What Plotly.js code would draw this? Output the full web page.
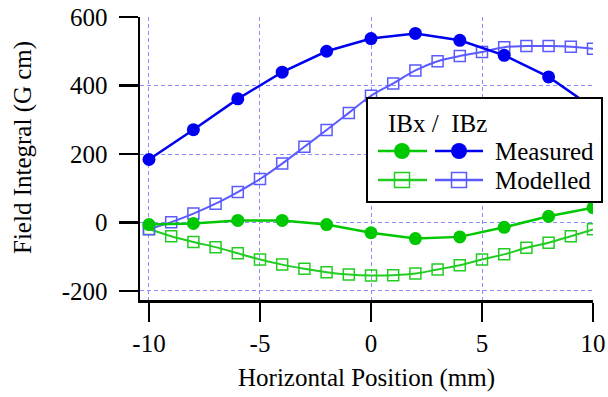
<!DOCTYPE html>
<html>
<head>
<meta charset="utf-8">
<script src="https://cdn.plot.ly/plotly-3.0.1.min.js"></script>
<style>html,body{margin:0;padding:0;background:#fff;}#chart{width:608px;height:397px;}</style>
</head>
<body>
<div id="chart"></div>
<script>
// ---- data ----
var xMeasured = [-10, -8, -6, -4, -2, 0, 2, 4, 6, 8, 10];
var ibxMeasured = [-6, -3, 6, 6, -6, -30, -47, -42, -14, 18, 43];
var ibzMeasured = [184, 271, 361, 439, 500, 537, 552, 532, 488, 425, 335];

var xModelled = [-10, -9, -8, -7, -6, -5, -4, -3, -2, -1, 0, 1, 2, 3, 4, 5, 6, 7, 8, 9, 10];
var ibxModelled = [-19, -40, -57, -72, -90, -108, -123, -135, -145, -152, -155, -154, -149, -137, -125, -108, -93, -74, -59, -40, -20];
var ibzModelled = [-20, 1, 26, 55, 89, 127, 172, 221, 270, 320, 370, 406, 444, 471, 486, 498, 512, 515, 515, 513, 507];

var xTicks = [-10, -5, 0, 5, 10];
var yTicks = [-200, 0, 200, 400, 600];
var legendHeader = 'IBx /\u00a0 IBz';
var legendLabels = ['Measured', 'Modelled'];
var xTitle = 'Horizontal Position (mm)';
var yTitle = 'Field Integral (G cm)';

// ---- styles ----
var FONT = 'Liberation Serif, Times New Roman, serif';
var GREEN = '#00c800';
var GREEN_M = '#22cc22';
var BLUE = '#0000f0';
var BLUE_M = '#5a5aff';
var GRID = '#8c8cff';

// plot area in pixels
var ML = 140, MR = 15, MT = 17, MB = 97;
var W = 608, H = 397;
var PW = W - ML - MR, PH = H - MT - MB;
function px(x) { return (x - ML) / PW; }
function py(y) { return (H - MB - y) / PH; }

var traces = [
  {x: xModelled, y: ibxModelled, mode: 'lines+markers', line: {color: GREEN_M, width: 2, shape: 'spline', smoothing: 1},
   marker: {symbol: 'square-open', size: 11, color: GREEN_M, line: {width: 1.5, color: GREEN_M}}},
  {x: xModelled, y: ibzModelled, mode: 'lines+markers', line: {color: BLUE_M, width: 2, shape: 'spline', smoothing: 1},
   marker: {symbol: 'square-open', size: 11, color: BLUE_M, line: {width: 1.5, color: BLUE_M}}},
  {x: xMeasured, y: ibxMeasured, mode: 'lines+markers', line: {color: GREEN, width: 2.5},
   marker: {symbol: 'circle', size: 13, color: GREEN}},
  {x: xMeasured, y: ibzMeasured, mode: 'lines+markers', line: {color: BLUE, width: 2.5},
   marker: {symbol: 'circle', size: 13, color: BLUE}}
];

// ---- legend built from shapes + annotations ----
var shapes = [
  {type: 'rect', xref: 'paper', yref: 'paper', x0: px(367), x1: px(602), y0: py(202), y1: py(98),
   fillcolor: '#ffffff', line: {color: '#000', width: 2}, layer: 'above'}
];
var annotations = [
  {xref: 'paper', yref: 'paper', x: px(386), y: py(123), xanchor: 'left', yanchor: 'middle', showarrow: false,
   text: legendHeader, font: {family: FONT, size: 25, color: '#000'}},
  {xref: 'paper', yref: 'paper', x: px(23), y: py(148), xanchor: 'center', yanchor: 'middle', showarrow: false,
   textangle: -90, text: yTitle, font: {family: FONT, size: 25, color: '#000'}}
];
var rows = [
  {y: 151, label: legendLabels[0], sym: 'circle', colors: [GREEN, BLUE]},
  {y: 180, label: legendLabels[1], sym: 'square', colors: [GREEN_M, BLUE_M]}
];
var cols = [{x0: 378, x1: 427, xc: 402}, {x0: 435, x1: 483, xc: 459}];
rows.forEach(function (r) {
  cols.forEach(function (c, i) {
    var col = r.colors[i];
    shapes.push({type: 'line', xref: 'paper', yref: 'paper', x0: px(c.x0), x1: px(c.x1), y0: py(r.y), y1: py(r.y),
      line: {color: col, width: 2.5}, layer: 'above'});
    if (r.sym === 'circle') {
      shapes.push({type: 'circle', xref: 'paper', yref: 'paper', xsizemode: 'pixel', ysizemode: 'pixel',
        xanchor: px(c.xc), yanchor: py(r.y), x0: -8, x1: 8, y0: -8, y1: 8,
        fillcolor: col, line: {color: col, width: 0}, layer: 'above'});
    } else {
      shapes.push({type: 'rect', xref: 'paper', yref: 'paper', xsizemode: 'pixel', ysizemode: 'pixel',
        xanchor: px(c.xc), yanchor: py(r.y), x0: -7.5, x1: 7.5, y0: -7.5, y1: 7.5,
        fillcolor: 'rgba(0,0,0,0)', line: {color: col, width: 1.5}, layer: 'above'});
    }
  });
  annotations.push({xref: 'paper', yref: 'paper', x: px(493), y: py(r.y), xanchor: 'left', yanchor: 'middle',
    showarrow: false, text: r.label, font: {family: FONT, size: 25, color: '#000'}});
});

var axisCommon = {
  showline: true, linecolor: '#000', linewidth: 2.5, mirror: false,
  ticks: 'outside', ticklen: 19, tickwidth: 2.5, tickcolor: '#000',
  showgrid: true, gridcolor: GRID, gridwidth: 1, griddash: '4px,3px',
  zeroline: false, tickfont: {family: FONT, size: 25, color: '#000'}
};

var layout = {
  width: W, height: H,
  margin: {l: ML, r: MR, t: MT, b: MB, pad: 0},
  paper_bgcolor: '#fff', plot_bgcolor: '#fff',
  showlegend: false,
  font: {family: FONT, size: 25, color: '#000'},
  xaxis: Object.assign({}, axisCommon, {
    range: [-10.405, 10], tickvals: xTicks, ticktext: xTicks.map(String),
    ticklabelstandoff: 0,
    title: {text: xTitle, font: {family: FONT, size: 25, color: '#000'}, standoff: 13}
  }),
  yaxis: Object.assign({}, axisCommon, {
    range: [-226.3, 600], tickvals: yTicks, ticktext: yTicks.map(String),
    ticklabelstandoff: 6
  }),
  shapes: shapes,
  annotations: annotations
};

Plotly.newPlot('chart', traces, layout, {displayModeBar: false, staticPlot: true});
</script>
</body>
</html>
